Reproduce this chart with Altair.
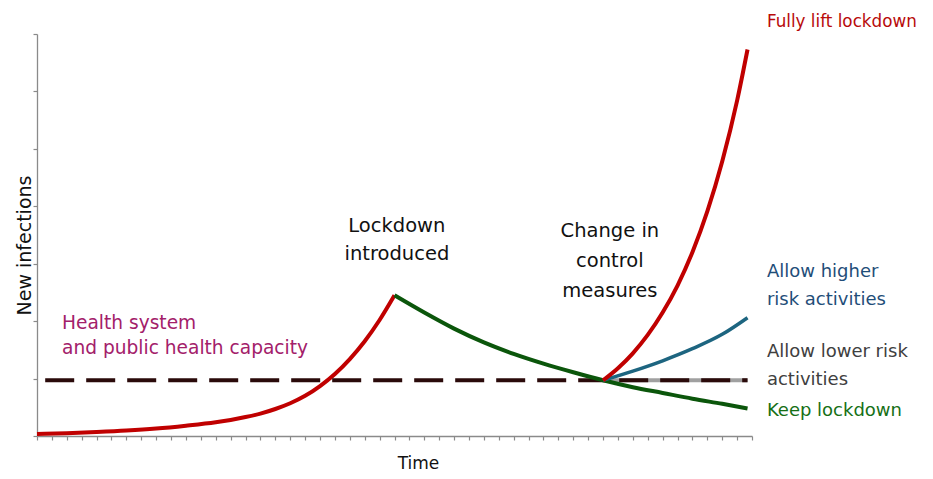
import altair as alt
import pandas as pd

# --- data ---
rise_t = [0, 2, 4, 6, 8, 10, 12, 13, 14, 15, 16, 17, 18, 19, 20, 21, 22, 23, 24]
rise_v = [0.035, 0.05, 0.07, 0.095, 0.13, 0.18, 0.24, 0.28, 0.33, 0.39, 0.47, 0.57,
          0.70, 0.87, 1.08, 1.34, 1.65, 2.02, 2.45]

keep_t = [24, 26, 28, 30, 32, 34, 36, 38, 40, 42, 44, 46, 47.7]
keep_v = [2.45, 2.15, 1.87, 1.63, 1.43, 1.26, 1.11, 0.97, 0.85, 0.75, 0.65, 0.56, 0.48]

lift_t = [38, 39, 40, 41, 42, 43, 44, 45, 46, 47, 47.7]
lift_v = [0.97, 1.18, 1.44, 1.76, 2.15, 2.62, 3.2, 3.91, 4.78, 5.84, 6.73]

high_t = [38, 40, 42, 44, 46, 47.7]
high_v = [0.97, 1.13, 1.31, 1.52, 1.77, 2.06]

low_t = [38, 47.7]
low_v = [0.97, 0.97]

cap_t = [0.55, 47.7]
cap_v = [0.97, 0.97]

top_text = ["Fully lift lockdown"]
top_t = [49.0]
top_v = [7.21]

label_text = ["Allow higher", "risk activities",
              "Allow lower risk", "activities", "Keep lockdown"]
label_t = [49.0, 49.0, 49.0, 49.0, 49.0]
label_v = [2.86, 2.37, 1.46, 0.98, 0.44]
label_c = ["#1f4e79", "#1f4e79", "#404040", "#404040", "#167016"]

center_text = ["Lockdown", "introduced", "Change in", "control", "measures"]
center_t = [24.16, 24.16, 38.46, 38.46, 38.46]
center_v = [3.66, 3.17, 3.57, 3.05, 2.53]

health_text = ["Health system", "and public health capacity"]
health_t = [1.68, 1.68]
health_v = [1.97, 1.53]

x_ticks = list(range(0, 49))
y_ticks = list(range(0, 8))

FONT = "DejaVu Sans"

xs = alt.Scale(domain=[0, 48], nice=False, zero=False)
ys = alt.Scale(domain=[0, 7], nice=False)

def line_df(t, v):
    return pd.DataFrame({"t": t, "v": v})

xenc = alt.X("t:Q", scale=xs,
             axis=alt.Axis(values=x_ticks, tickCount=100, labels=False, grid=False, tickSize=4,
                           tickWidth=1.2, domainWidth=1.3,
                           domainColor="#8a8a8a", tickColor="#8a8a8a",
                           title="Time", titleFont=FONT, titleFontSize=17,
                           titleFontWeight="normal", titleColor="#111111",
                           titleX=381, titleY=32, titleBaseline="alphabetic"))
yenc = alt.Y("v:Q", scale=ys,
             axis=alt.Axis(values=y_ticks, tickCount=20, labels=False, grid=False, tickSize=4,
                           tickWidth=1.2, domainWidth=1.3,
                           domainColor="#8a8a8a", tickColor="#8a8a8a",
                           title="New infections", titleFont=FONT, titleFontSize=19,
                           titleFontWeight="normal", titleColor="#111111",
                           titleX=-7, titleY=211, titleAngle=270,
                           titleBaseline="alphabetic", titleAlign="center"))

base_axes = alt.Chart(line_df(rise_t, rise_v)).mark_line(
    color="#c00000", strokeWidth=4, interpolate="monotone").encode(x=xenc, y=yenc)

def ln(t, v, **kw):
    return alt.Chart(line_df(t, v)).mark_line(interpolate="monotone", **kw).encode(
        x=alt.X("t:Q", scale=xs), y=alt.Y("v:Q", scale=ys))

low_grey = ln(low_t, low_v, color="#a0a0a0", strokeWidth=4)
cap = ln(cap_t, cap_v, color="#2a0a0a", strokeWidth=4, strokeDash=[29, 12])
keep = ln(keep_t, keep_v, color="#0b560b", strokeWidth=4)
high = ln(high_t, high_v, color="#1d6580", strokeWidth=3.5)
lift = ln(lift_t, lift_v, color="#c00000", strokeWidth=4)

top_df = pd.DataFrame({"text": top_text, "t": top_t, "v": top_v})
top_label = alt.Chart(top_df).mark_text(
    align="left", baseline="middle", font=FONT, fontSize=16.8, color="#b80a0a").encode(
    x=alt.X("t:Q", scale=xs), y=alt.Y("v:Q", scale=ys), text="text:N")

labels_df = pd.DataFrame({"text": label_text, "t": label_t, "v": label_v, "c": label_c})
labels = alt.Chart(labels_df).mark_text(
    align="left", baseline="middle", font=FONT, fontSize=18).encode(
    x=alt.X("t:Q", scale=xs), y=alt.Y("v:Q", scale=ys), text="text:N",
    color=alt.Color("c:N", scale=None))

center_df = pd.DataFrame({"text": center_text, "t": center_t, "v": center_v})
centers = alt.Chart(center_df).mark_text(
    align="center", baseline="middle", font=FONT, fontSize=19.5, color="#111111").encode(
    x=alt.X("t:Q", scale=xs), y=alt.Y("v:Q", scale=ys), text="text:N")

health_df = pd.DataFrame({"text": health_text, "t": health_t, "v": health_v})
health = alt.Chart(health_df).mark_text(
    align="left", baseline="middle", font=FONT, fontSize=18.6, color="#a3206a").encode(
    x=alt.X("t:Q", scale=xs), y=alt.Y("v:Q", scale=ys), text="text:N")

chart = alt.layer(base_axes, low_grey, cap, keep, high, lift, top_label, labels, centers,
                  health).properties(
    width=715, height=402,
    autosize=alt.AutoSizeParams(type="none"),
    padding={"left": 29, "top": 26, "right": 173, "bottom": 35},
    background="#ffffff",
).configure_view(stroke=None)

chart.save("out.html", embed_options={"renderer": "svg", "actions": False})
